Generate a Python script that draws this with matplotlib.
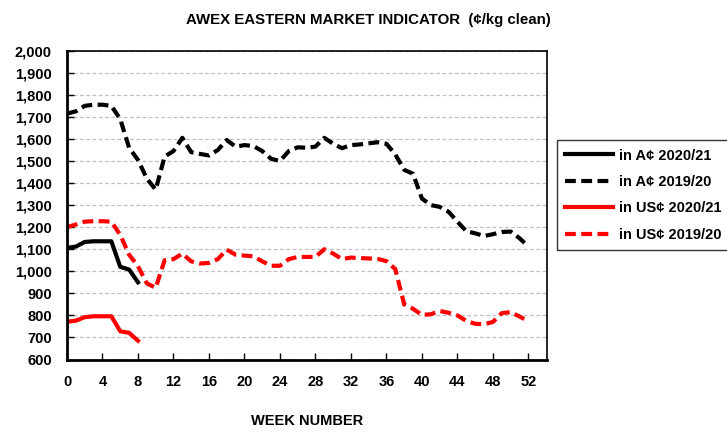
import matplotlib
matplotlib.use("Agg")
import matplotlib.pyplot as plt
import numpy as np

plt.rcParams['font.family'] = ['Liberation Sans', 'DejaVu Sans']
plt.rcParams['font.weight'] = 'bold'

weeks_full = list(range(0, 53))
weeks_cur = list(range(0, 9))

aud_2019 = [1715, 1725, 1750, 1755, 1755, 1750, 1690, 1560, 1505, 1420, 1370, 1520,
            1545, 1605, 1540, 1532, 1525, 1550, 1595, 1565, 1572, 1568, 1545, 1510,
            1500, 1545, 1562, 1560, 1565, 1605, 1578, 1558, 1572, 1575, 1580, 1585,
            1578, 1530, 1460, 1442, 1330, 1300, 1292, 1270, 1225, 1182, 1172, 1160,
            1168, 1178, 1180, 1150, 1112]
usd_2019 = [1200, 1212, 1225, 1227, 1227, 1225, 1165, 1075, 1023, 945, 925, 1050,
            1055, 1080, 1045, 1035, 1038, 1055, 1098, 1075, 1071, 1068, 1045, 1025,
            1025, 1055, 1065, 1065, 1065, 1100, 1080, 1055, 1062, 1060, 1058, 1056,
            1046, 1010, 850, 830, 802, 805, 820, 812, 800, 775, 762, 760, 770,
            810, 815, 795, 773]
aud_2020 = [1106, 1112, 1133, 1136, 1136, 1136, 1020, 1008, 950]
usd_2020 = [771, 776, 792, 796, 796, 796, 728, 721, 685]

y_ticks = list(range(600, 2001, 100))
x_ticks = list(range(0, 53, 4))

fig = plt.figure(figsize=(7.27, 4.32), dpi=100)
ax = fig.add_axes([67/727, 1 - 359.5/432, (547-67)/727, (359.5-50.7)/432])

dash = (0, (2.6, 1.3))
ax.plot(weeks_cur, aud_2020, color='black', lw=3, solid_joinstyle='round', label='in A¢ 2020/21')
ax.plot(weeks_full, aud_2019, color='black', lw=3, ls=dash, label='in A¢ 2019/20')
ax.plot(weeks_cur, usd_2020, color='#ff0000', lw=3, solid_joinstyle='round', label='in US¢ 2020/21')
ax.plot(weeks_full, usd_2019, color='#ff0000', lw=3, ls=dash, label='in US¢ 2019/20')

ax.set_xlim(0, 54.1)
ax.set_ylim(600, 2000)
ax.set_yticks(y_ticks)
ax.set_yticklabels([f"{v:,}" for v in y_ticks])
ax.set_xticks(x_ticks)
ax.yaxis.grid(True, color='#c0c0c0', ls=(0, (3, 2)), lw=0.9)
ax.set_axisbelow(True)
ax.tick_params(axis='both', direction='in', length=5, width=1, labelsize=10.5)
ax.tick_params(axis='y', pad=11)
ax.tick_params(axis='x', pad=11)
for t in ax.get_xticklabels() + ax.get_yticklabels():
    t.set_fontweight('bold')
for s in ax.spines.values():
    s.set_linewidth(1.2)
ax.spines['left'].set_linewidth(2)
ax.spines['bottom'].set_linewidth(2)

fig.text(368/727, 1 - 20/432, 'AWEX EASTERN MARKET INDICATOR  (¢/kg clean)',
         ha='center', va='center', fontsize=10.8, fontweight='bold')
fig.text(307/727, 1 - 421/432, 'WEEK NUMBER', ha='center', va='center',
         fontsize=10.5, fontweight='bold')

leg = fig.legend(loc='upper left', bbox_to_anchor=(557/727, 1 - 140.5/432),
                 frameon=True, fancybox=False, edgecolor='black', fontsize=10.5,
                 handlelength=3.3, handletextpad=0.4, borderpad=0.55, labelspacing=0.85,
                 borderaxespad=0)
leg.get_frame().set_linewidth(1.0)
for t in leg.get_texts():
    t.set_fontweight('bold')

fig.savefig('out.png', dpi=100)
